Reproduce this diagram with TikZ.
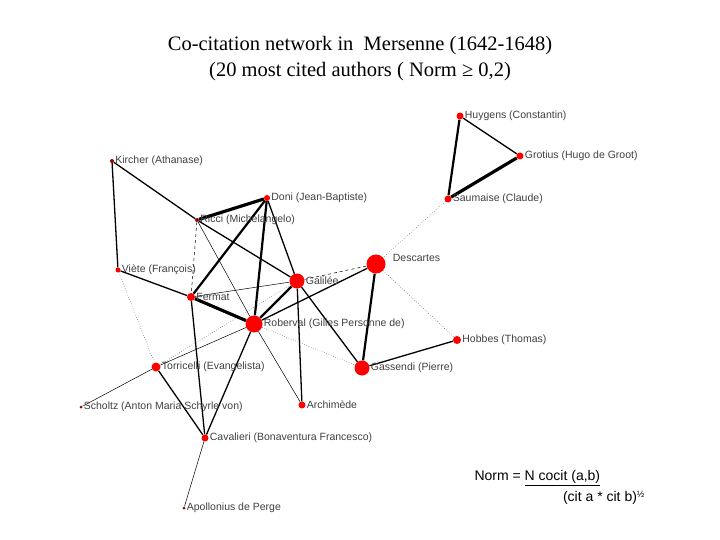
\documentclass[tikz,border=0pt]{standalone}
\usepackage{fontspec}
\setmainfont{Liberation Serif}
\newfontfamily\lab{Liberation Sans}
\usetikzlibrary{backgrounds}
\begin{document}
\begin{tikzpicture}[x=1pt,y=-1pt,
 nd/.style={circle,fill=red,inner sep=0pt,minimum size=#1},
 sm/.style={circle,fill=red!60!black,inner sep=0pt,minimum size=#1},
 lb/.style={anchor=west,font=\lab\fontsize{10.5}{12}\selectfont,text=black!75,inner sep=1pt},
 th/.style={line width=0.5pt},
 md/.style={line width=1.3pt},
 tk/.style={line width=2.2pt},
 vt/.style={line width=3.2pt},
 dt/.style={line width=0.4pt,dotted},
 ds/.style={line width=0.5pt,dashed}]
\useasboundingbox (0,0) rectangle (720,540);
\node[font=\fontsize{20.5}{24}\selectfont] (t1) at (360,46) {Co-citation network in\ \ Mersenne (1642-1648)};
\node[font=\fontsize{20.5}{24}\selectfont] (t2) at (360,72) {(20 most cited authors ( Norm ≥ 0,2)};
\node[nd=7] (hu) at (460,116) {}; \node[nd=7] (gr) at (520,156) {}; \node[nd=7] (sa) at (448,199) {};
\node[sm=4] (ki) at (112,161) {}; \node[nd=6] (do) at (267,198) {}; \node[sm=4] (ri) at (197,220) {};
\node[nd=5] (vi) at (118,270) {}; \node[nd=15] (ga) at (297,281) {}; \node[nd=19] (de) at (376,264) {};
\node[nd=8] (fe) at (191,297) {}; \node[nd=17] (ro) at (254,324) {}; \node[nd=8] (ho) at (457,340) {};
\node[nd=15] (gs) at (362,368) {}; \node[nd=9] (to) at (156,367) {}; \node[nd=7] (ar) at (302,405) {};
\node[sm=3] (sc) at (81,407) {}; \node[nd=7] (ca) at (205,438) {}; \node[sm=3] (ap) at (184,508) {};
\node[lb] at (hu.east) {Huygens (Constantin)};
\node[lb] at (gr.east) {Grotius (Hugo de Groot)};
\node[lb] at (sa.east) {Saumaise (Claude)};
\node[lb] at (ki.east) {Kircher (Athanase)};
\node[lb] at (do.east) {Doni (Jean-Baptiste)};
\node[lb] at (ri.east) {Ricci (Michelangelo)};
\node[lb] at (vi.east) {Viète (François)};
\node[lb] at (ga.east) {Galilée};
\node[lb] at ([xshift=6pt,yshift=6pt]de.east) {Descartes};
\node[lb] at (fe.east) {Fermat};
\node[lb] at (ro.east) {Roberval (Gilles Personne de)};
\node[lb] at (ho.east) {Hobbes (Thomas)};
\node[lb] at (gs.east) {Gassendi (Pierre)};
\node[lb] at (to.east) {Torricelli (Evangelista)};
\node[lb] at (ar.east) {Archimède};
\node[lb] at (sc.east) {Scholtz (Anton Maria Schyrle von)};
\node[lb] at (ca.east) {Cavalieri (Bonaventura Francesco)};
\node[lb] at (ap.east) {Apollonius de Perge};
\begin{scope}[on background layer]
\draw[md] (hu)--(gr); \draw[tk] (hu)--(sa); \draw[vt] (gr)--(sa); \draw[dt] (sa)--(de);
\draw[md] (ki)--(ri); \draw[md] (ki)--(vi);
\draw[vt] (do)--(ri); \draw[tk] (do)--(fe); \draw[tk] (do)--(ro); \draw[md] (do)--(ga);
\draw[md] (ri)--(ga); \draw[ds] (ri)--(fe); \draw[th] (ri)--(ro);
\draw[md] (vi)--(fe); \draw[dt] (vi)--(to);
\draw[th] (fe)--(ga); \draw[vt] (fe)--(ro); \draw[md] (fe)--(ca);
\draw[ds] (ga)--(de); \draw[tk] (ga)--(ro); \draw[md] (ga)--(ar); \draw[md] (ga)--(gs); \draw[dt] (ga)--(to);
\draw[md] (de)--(ro); \draw[tk] (de)--(gs); \draw[dt] (de)--(ho);
\draw[dt] (ro)--(gs); \draw[th] (ro)--(ar); \draw[md] (ro)--(ca); \draw[th] (ro)--(to);
\draw[md] (ho)--(gs);
\draw[md] (to)--(ca); \draw[th] (to)--(sc);
\draw[th] (ca)--(ap);
\end{scope}
\node[font=\lab\fontsize{14}{16}\selectfont,anchor=west] (l1) at (471,478) {Norm = \underline{N cocit (a,b)}};
\node[font=\lab\fontsize{14}{16}\selectfont,anchor=east] (l2) at (648,498) {(cit a * cit b)\raisebox{0.5ex}{\fontsize{9}{10}\selectfont ½}};
\end{tikzpicture}
\end{document}
